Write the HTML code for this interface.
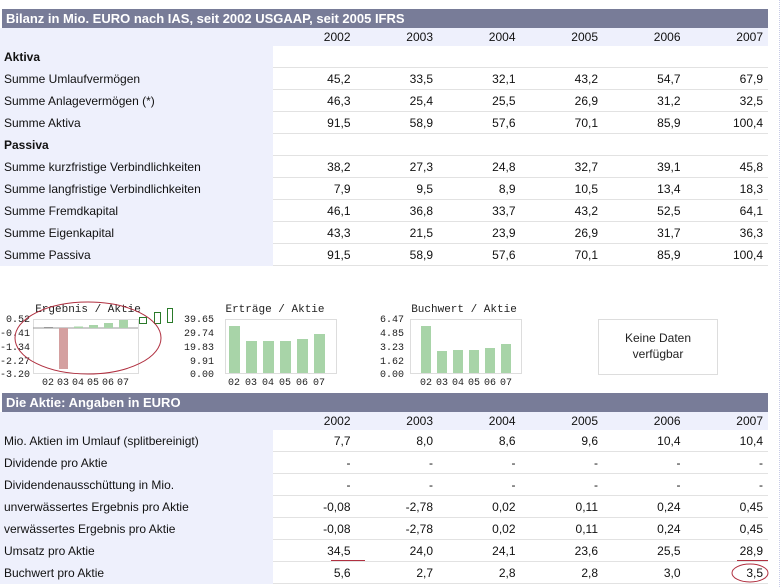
<!DOCTYPE html>
<html><head><meta charset="utf-8"><style>
*{margin:0;padding:0;box-sizing:border-box}
body{width:782px;height:588px;background:#fff;position:relative;overflow:hidden;font-family:"Liberation Sans",sans-serif;font-size:12px;color:#111}
.bar{position:absolute;left:2px;width:766px;height:19px;background:#787c98;color:#fff;font-size:13px;line-height:19px;padding-left:4px}
.tbl{position:absolute;left:0;width:768px;background:#eef0fc}
.r{display:flex;height:22px;line-height:22px}
.r .l{width:273px;padding-left:4px;flex:none}
.r .c{width:82.5px;text-align:right;padding-right:5px;background:#fff;border-bottom:1px solid #e2e2e2}
.r.h .c{background:#eef0fc;border:none}
.r.h{height:18px;line-height:18px}
.b{font-weight:bold}
</style></head><body>
<div class="bar" style="top:9px;font-weight:bold">Bilanz in Mio. EURO nach IAS, seit 2002 USGAAP, seit 2005 IFRS</div>
<div class="tbl" style="top:28px">
<div class="r h"><div class="l"></div><div class="c">2002</div><div class="c">2003</div><div class="c">2004</div><div class="c">2005</div><div class="c">2006</div><div class="c">2007</div></div>
<div class="r"><div class="l b">Aktiva</div><div class="c"></div><div class="c"></div><div class="c"></div><div class="c"></div><div class="c"></div><div class="c"></div></div>
<div class="r"><div class="l">Summe Umlaufvermögen</div><div class="c">45,2</div><div class="c">33,5</div><div class="c">32,1</div><div class="c">43,2</div><div class="c">54,7</div><div class="c">67,9</div></div>
<div class="r"><div class="l">Summe Anlagevermögen (*)</div><div class="c">46,3</div><div class="c">25,4</div><div class="c">25,5</div><div class="c">26,9</div><div class="c">31,2</div><div class="c">32,5</div></div>
<div class="r"><div class="l">Summe Aktiva</div><div class="c">91,5</div><div class="c">58,9</div><div class="c">57,6</div><div class="c">70,1</div><div class="c">85,9</div><div class="c">100,4</div></div>
<div class="r"><div class="l b">Passiva</div><div class="c"></div><div class="c"></div><div class="c"></div><div class="c"></div><div class="c"></div><div class="c"></div></div>
<div class="r"><div class="l">Summe kurzfristige Verbindlichkeiten</div><div class="c">38,2</div><div class="c">27,3</div><div class="c">24,8</div><div class="c">32,7</div><div class="c">39,1</div><div class="c">45,8</div></div>
<div class="r"><div class="l">Summe langfristige Verbindlichkeiten</div><div class="c">7,9</div><div class="c">9,5</div><div class="c">8,9</div><div class="c">10,5</div><div class="c">13,4</div><div class="c">18,3</div></div>
<div class="r"><div class="l">Summe Fremdkapital</div><div class="c">46,1</div><div class="c">36,8</div><div class="c">33,7</div><div class="c">43,2</div><div class="c">52,5</div><div class="c">64,1</div></div>
<div class="r"><div class="l">Summe Eigenkapital</div><div class="c">43,3</div><div class="c">21,5</div><div class="c">23,9</div><div class="c">26,9</div><div class="c">31,7</div><div class="c">36,3</div></div>
<div class="r"><div class="l">Summe Passiva</div><div class="c">91,5</div><div class="c">58,9</div><div class="c">57,6</div><div class="c">70,1</div><div class="c">85,9</div><div class="c">100,4</div></div>
</div>

<svg style="position:absolute;left:0;top:290px" width="782" height="103" font-family="Liberation Mono, monospace" font-size="10" fill="#222">
<g transform="translate(0,-290)">
<text x="88" y="312" text-anchor="middle" font-size="11">Ergebnis / Aktie</text>
<rect x="33.5" y="319.5" width="105" height="54" fill="#fff" stroke="#ddd"/>
<line x1="33" y1="328" x2="138" y2="328" stroke="#999"/>
<rect x="44" y="327" width="9" height="1.5" fill="#999"/>
<rect x="59" y="328" width="9" height="41" fill="#d4a0a0"/>
<rect x="74" y="326.5" width="9" height="1.5" fill="#a8d4a8"/>
<rect x="89" y="325" width="9" height="3" fill="#a8d4a8"/>
<rect x="104" y="323" width="9" height="5" fill="#a8d4a8"/>
<rect x="119" y="320" width="9" height="8" fill="#a8d4a8"/>
<g text-anchor="end"><text x="30" y="322">0.52</text><text x="30" y="336">-0.41</text><text x="30" y="350">-1.34</text><text x="30" y="364">-2.27</text><text x="30" y="377">-3.20</text></g>
<g text-anchor="middle"><text x="48" y="385">02</text><text x="63" y="385">03</text><text x="78" y="385">04</text><text x="93" y="385">05</text><text x="108" y="385">06</text><text x="123" y="385">07</text></g>
<rect x="139.5" y="317.5" width="7" height="6" fill="none" stroke="#2a7a2a"/>
<rect x="154.5" y="312.5" width="6" height="11" fill="none" stroke="#2a7a2a"/>
<rect x="167.5" y="308.5" width="5" height="14" fill="none" stroke="#2a7a2a"/>
<ellipse cx="88" cy="338" rx="73" ry="36" fill="none" stroke="#b03040" stroke-width="1"/>
<text x="275" y="312" text-anchor="middle" font-size="11">Erträge / Aktie</text>
<rect x="225.5" y="319.5" width="111" height="54" fill="#fff" stroke="#ddd"/>
<rect x="229" y="326" width="11" height="47" fill="#a8d4a8"/>
<rect x="246" y="341" width="11" height="32" fill="#a8d4a8"/>
<rect x="263" y="341" width="11" height="32" fill="#a8d4a8"/>
<rect x="280" y="341" width="11" height="32" fill="#a8d4a8"/>
<rect x="297" y="339" width="11" height="34" fill="#a8d4a8"/>
<rect x="314" y="334" width="11" height="39" fill="#a8d4a8"/>
<g text-anchor="end"><text x="214" y="322">39.65</text><text x="214" y="336">29.74</text><text x="214" y="350">19.83</text><text x="214" y="364">9.91</text><text x="214" y="377">0.00</text></g>
<g text-anchor="middle"><text x="234" y="385">02</text><text x="251" y="385">03</text><text x="268" y="385">04</text><text x="285" y="385">05</text><text x="302" y="385">06</text><text x="319" y="385">07</text></g>
<text x="464" y="312" text-anchor="middle" font-size="11">Buchwert / Aktie</text>
<rect x="410.5" y="319.5" width="111" height="54" fill="#fff" stroke="#ddd"/>
<rect x="421" y="326" width="10" height="47" fill="#a8d4a8"/>
<rect x="437" y="351" width="10" height="22" fill="#a8d4a8"/>
<rect x="453" y="350" width="10" height="23" fill="#a8d4a8"/>
<rect x="469" y="350" width="10" height="23" fill="#a8d4a8"/>
<rect x="485" y="348" width="10" height="25" fill="#a8d4a8"/>
<rect x="501" y="344" width="10" height="29" fill="#a8d4a8"/>
<g text-anchor="end"><text x="404" y="322">6.47</text><text x="404" y="336">4.85</text><text x="404" y="350">3.23</text><text x="404" y="364">1.62</text><text x="404" y="377">0.00</text></g>
<g text-anchor="middle"><text x="426" y="385">02</text><text x="442" y="385">03</text><text x="458" y="385">04</text><text x="474" y="385">05</text><text x="490" y="385">06</text><text x="506" y="385">07</text></g>
<rect x="598.5" y="319.5" width="119" height="55" fill="#fff" stroke="#ddd"/>
<text x="658" y="342" text-anchor="middle" font-family="Liberation Sans, sans-serif" font-size="12">Keine Daten</text>
<text x="658" y="358" text-anchor="middle" font-family="Liberation Sans, sans-serif" font-size="12">verfügbar</text>
</g></svg>

<div class="bar" style="top:393px;font-weight:bold">Die Aktie: Angaben in EURO</div>
<div class="tbl" style="top:412px">
<div class="r h"><div class="l"></div><div class="c">2002</div><div class="c">2003</div><div class="c">2004</div><div class="c">2005</div><div class="c">2006</div><div class="c">2007</div></div>
<div class="r"><div class="l">Mio. Aktien im Umlauf (splitbereinigt)</div><div class="c">7,7</div><div class="c">8,0</div><div class="c">8,6</div><div class="c">9,6</div><div class="c">10,4</div><div class="c">10,4</div></div>
<div class="r"><div class="l">Dividende pro Aktie</div><div class="c">-</div><div class="c">-</div><div class="c">-</div><div class="c">-</div><div class="c">-</div><div class="c">-</div></div>
<div class="r"><div class="l">Dividendenausschüttung in Mio.</div><div class="c">-</div><div class="c">-</div><div class="c">-</div><div class="c">-</div><div class="c">-</div><div class="c">-</div></div>
<div class="r"><div class="l">unverwässertes Ergebnis pro Aktie</div><div class="c">-0,08</div><div class="c">-2,78</div><div class="c">0,02</div><div class="c">0,11</div><div class="c">0,24</div><div class="c">0,45</div></div>
<div class="r"><div class="l">verwässertes Ergebnis pro Aktie</div><div class="c">-0,08</div><div class="c">-2,78</div><div class="c">0,02</div><div class="c">0,11</div><div class="c">0,24</div><div class="c">0,45</div></div>
<div class="r"><div class="l">Umsatz pro Aktie</div><div class="c">34,5</div><div class="c">24,0</div><div class="c">24,1</div><div class="c">23,6</div><div class="c">25,5</div><div class="c">28,9</div></div>
<div class="r"><div class="l">Buchwert pro Aktie</div><div class="c">5,6</div><div class="c">2,7</div><div class="c">2,8</div><div class="c">2,8</div><div class="c">3,0</div><div class="c">3,5</div></div>
</div>
<svg style="position:absolute;left:0;top:0" width="782" height="588">
<line x1="331" y1="560.5" x2="365" y2="560.5" stroke="#b03040"/>
<line x1="737" y1="560.5" x2="768" y2="560.5" stroke="#b03040"/>
<ellipse cx="750" cy="573" rx="18" ry="9" fill="none" stroke="#b03040"/>
<line x1="779.5" y1="0" x2="779.5" y2="588" stroke="#c8cce8" stroke-dasharray="1,1"/>
</svg>
</body></html>
